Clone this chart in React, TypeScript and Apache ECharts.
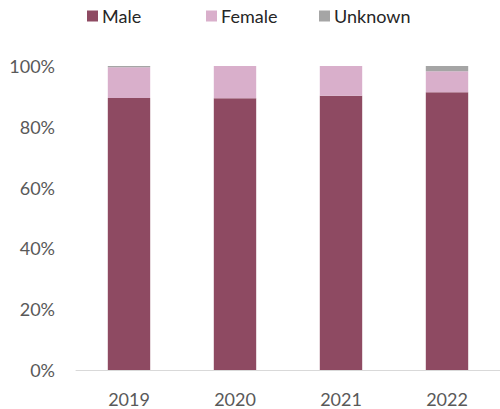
import React, { useEffect, useRef } from "react";
import * as echarts from "echarts";

const categories = ["2019", "2020", "2021", "2022"];
const male = [89.5, 89.4, 90.2, 91.4];
const female = [10.1, 10.6, 9.8, 6.9];
const unknown = [0.4, 0, 0, 1.7];
const yTicks = [0, 20, 40, 60, 80, 100];
const seriesNames = ["Male", "Female", "Unknown"];
const legendLefts = [87, 206, 319];

const FONT = "Lato";

export default function App() {
  const ref = useRef<HTMLDivElement>(null);
  useEffect(() => {
    if (!ref.current) return;
    const chart = echarts.init(ref.current, undefined, { renderer: "svg" });
    chart.setOption({
      animation: false,
      textStyle: { fontFamily: FONT },
      legend: seriesNames.map((n, i) => ({
        top: 7,
        left: legendLefts[i],
        padding: 0,
        itemWidth: 11,
        itemHeight: 11,
        icon: "rect",
        textStyle: { fontFamily: FONT, fontSize: 18, color: "#262626", padding: [0, 0, 0, -1] },
        data: [n],
      })),
      grid: { left: 76, top: 66, width: 428, height: 304, containLabel: false },
      xAxis: {
        type: "category",
        data: categories,
        axisLine: { lineStyle: { color: "#D9D9D9", width: 1 } },
        axisTick: { show: false },
        axisLabel: { color: "#595959", fontSize: 18, fontFamily: FONT, margin: 20 },
      },
      yAxis: {
        type: "value",
        min: yTicks[0],
        max: yTicks[yTicks.length - 1],
        interval: 20,
        splitLine: { show: false },
        axisLine: { show: false },
        axisTick: { show: false },
        axisLabel: {
          color: "#595959",
          fontSize: 18,
          fontFamily: FONT,
          margin: 21,
          formatter: (v: number) => v + "%",
        },
      },
      series: [
        { name: "Male", type: "bar", stack: "a", data: male, barWidth: "40%", itemStyle: { color: "#8E4A62" } },
        { name: "Female", type: "bar", stack: "a", data: female, barWidth: "40%", itemStyle: { color: "#D9AFCB" } },
        { name: "Unknown", type: "bar", stack: "a", data: unknown, barWidth: "40%", itemStyle: { color: "#A5A5A5" } },
      ],
    });
    return () => chart.dispose();
  }, []);
  return (
    <div
      ref={ref}
      style={{ position: "absolute", left: 0, top: 0, width: 500, height: 409, background: "#fff" }}
    />
  );
}
